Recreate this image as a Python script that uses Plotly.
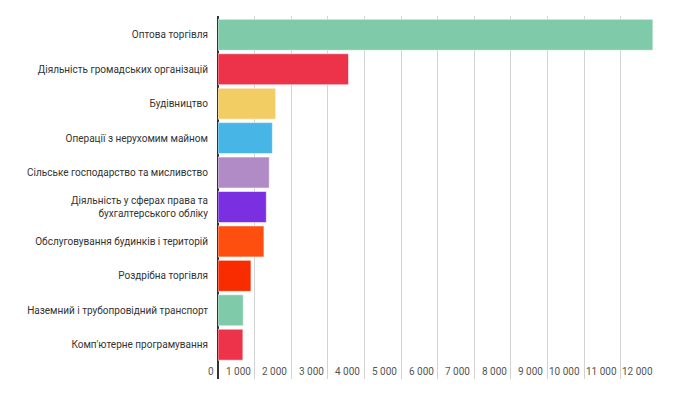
import plotly.graph_objects as go

categories = [
    "Оптова торгівля",
    "Діяльність громадських організацій",
    "Будівництво",
    "Операції з нерухомим майном",
    "Сільське господарство та мисливство",
    "Діяльність у сферах права та<br>бухгалтерського обліку",
    "Обслуговування будинків і територій",
    "Роздрібна торгівля",
    "Наземний і трубопровідний транспорт",
    "Комп'ютерне програмування",
]
values = [11880, 3565, 1575, 1485, 1400, 1320, 1255, 900, 690, 680]
colors = ["#7fcaa8", "#ec3349", "#f2cd64", "#47b6e6", "#b08bc6",
          "#7a30e0", "#ff4f10", "#f92c00", "#7fcaa8", "#ec3349"]
tick_vals = list(range(0, 13000, 1000))
tick_text = ["0"] + [f"{v // 1000} 000" for v in tick_vals[1:]]

fig = go.Figure(go.Bar(
    x=values, y=categories, orientation="h",
    marker=dict(color=colors, line=dict(color="rgba(255,255,255,0.55)", width=1)),
    width=0.90,
))

for v, t in zip(tick_vals, tick_text):
    fig.add_annotation(
        x=v, y=0, xref="x", yref="paper", text=t, showarrow=False,
        xanchor="right", yanchor="bottom", xshift=-2, yshift=0,
        font=dict(family="Roboto", size=10, color="#555555"),
    )

fig.update_layout(
    width=672, height=391,
    margin=dict(l=210, r=22, t=8, b=20),
    paper_bgcolor="white", plot_bgcolor="white",
    font=dict(family="Roboto", size=10, color="#444444"),
    showlegend=False,
    xaxis=dict(
        range=[0, 12020], tickvals=tick_vals, showticklabels=False,
        showgrid=True, gridcolor="#d3d3d3", gridwidth=1,
        zeroline=True, zerolinecolor="#333333", zerolinewidth=1.5,
        ticks="", showline=False, fixedrange=True, automargin=False,
    ),
    yaxis=dict(
        categoryorder="array", categoryarray=categories,
        range=[9.996, -0.546],
        ticks="outside", ticklen=7, tickcolor="rgba(0,0,0,0)",
        tickfont=dict(size=10, color="#333333"),
        showgrid=False, zeroline=False, showline=False, automargin=False,
    ),
)

fig.write_html("out.html")
